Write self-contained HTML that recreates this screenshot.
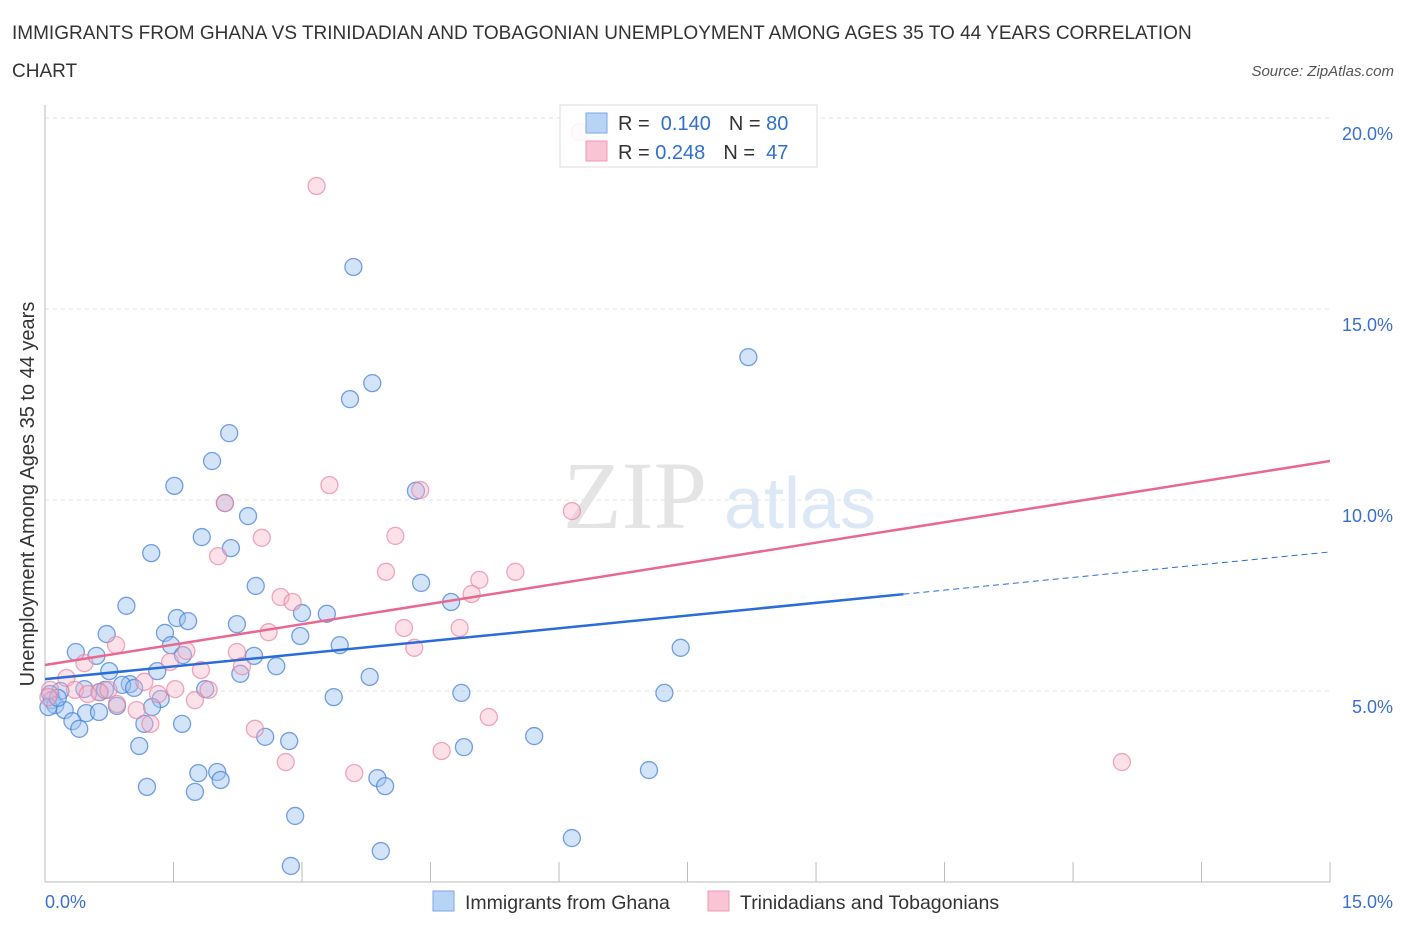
<!DOCTYPE html>
<html><head><meta charset="utf-8"><style>
body{margin:0;background:#fff;font-family:"Liberation Sans",sans-serif;}
svg{display:block}
</style></head><body>
<svg id="chart" width="1406" height="930" xmlns="http://www.w3.org/2000/svg">
<text x="12" y="39" font-size="19" fill="#333">IMMIGRANTS FROM GHANA VS TRINIDADIAN AND TOBAGONIAN UNEMPLOYMENT AMONG AGES 35 TO 44 YEARS CORRELATION</text>
<text x="12" y="77" font-size="19" fill="#333">CHART</text>
<text x="1394" y="76" font-size="15" fill="#555" font-style="italic" text-anchor="end">Source: ZipAtlas.com</text>
<text x="635" y="528" font-size="96" fill="#e4e4e4" font-family="Liberation Serif,serif" text-anchor="middle">ZIP</text>
<text x="800" y="528" font-size="72" fill="#dce8f6" text-anchor="middle">atlas</text>
<g id="grid"></g>
<g id="marks"></g>
<text transform="translate(34,494) rotate(-90)" font-size="20" fill="#333" text-anchor="middle">Unemployment Among Ages 35 to 44 years</text>
<text x="45" y="908" font-size="18" fill="#3a6fd0">0.0%</text>
<text x="1393" y="908" font-size="18" fill="#3a6fd0" text-anchor="end">15.0%</text>
<g>
<rect x="560" y="105" width="257" height="62" fill="rgba(255,255,255,0.85)" stroke="#ddd"/>
<rect x="586" y="113" width="21" height="20" fill="#b9d3f5" stroke="#7aa6e6"/>
<rect x="586" y="141" width="21" height="20" fill="#f9c4d4" stroke="#ee9ab5"/>
<text x="618" y="130" font-size="20" fill="#333">R = <tspan fill="#2f6fd0">&#160;0.140</tspan><tspan dx="18">N = </tspan><tspan fill="#2f6fd0">80</tspan></text>
<text x="618" y="159" font-size="20" fill="#333">R = <tspan fill="#2f6fd0">0.248</tspan><tspan dx="18">N = </tspan><tspan fill="#2f6fd0">&#160;47</tspan></text>
</g>
<g>
<rect x="433" y="891" width="21" height="20" fill="#b9d3f5" stroke="#7aa6e6"/>
<text x="465" y="909" font-size="19.5" fill="#333">Immigrants from Ghana</text>
<rect x="708" y="891" width="21" height="20" fill="#f9c4d4" stroke="#ee9ab5"/>
<text x="740" y="909" font-size="19.5" fill="#333">Trinidadians and Tobagonians</text>
</g>
</svg>
<script>
const yTicks=[5,10,15,20];
const xTicks=[0,1.5,3,4.5,6,7.5,9,10.5,12,13.5,15];
const bluePx=[[353,267],[748,357],[372,383],[350,399],[229,433],[212,461],[174,486],[416,491],[225,503],[248,516],[202,537],[231,548],[151,553],[421,583],[256,586],[126,606],[451,602],[177,618],[188,621],[237,624],[302,613],[327,614],[107,634],[165,633],[300,636],[340,645],[171,645],[76,652],[96,656],[183,655],[681,648],[254,656],[109,671],[157,671],[276,666],[240,674],[370,677],[130,684],[122,685],[134,688],[205,689],[84,689],[100,692],[60,691],[50,694],[52,700],[161,699],[334,697],[461,693],[664,693],[55,705],[65,710],[117,706],[152,707],[48,707],[86,713],[99,712],[72,721],[79,729],[144,724],[182,724],[265,737],[289,741],[534,736],[464,747],[139,746],[649,770],[198,773],[217,772],[221,780],[377,778],[385,786],[147,787],[195,792],[295,816],[572,838],[381,851],[291,866],[105,690],[58,698]];
const pinkPx=[[580,132],[317,186],[329,485],[420,490],[225,503],[572,511],[262,538],[395,536],[218,556],[386,572],[515,572],[479,580],[281,597],[293,602],[472,594],[269,632],[116,645],[404,628],[460,628],[186,651],[237,652],[84,663],[170,662],[414,648],[201,670],[242,666],[66,678],[144,682],[50,690],[75,690],[99,692],[108,690],[175,689],[209,690],[158,694],[195,700],[117,704],[137,710],[150,724],[489,717],[255,729],[286,762],[354,773],[442,751],[1122,762],[88,694],[48,697]];
const ghanaX=bluePx.map(p=>+((p[0]-45)/85.67).toFixed(2));
const ghanaY=bluePx.map(p=>+((882-p[1])/38.2).toFixed(2));
const trinX=pinkPx.map(p=>+((p[0]-45)/85.67).toFixed(2));
const trinY=pinkPx.map(p=>+((882-p[1])/38.2).toFixed(2));
const ghanaTrend=[5.31,8.64]; const ghanaSolidEnd=10.02;
const trinTrend=[5.68,11.02];
const X=v=>45+v*85.67, Y=v=>882-v*38.2;
const NS="http://www.w3.org/2000/svg";
function mk(t,a,parent){const e=document.createElementNS(NS,t);for(const k in a)e.setAttribute(k,a[k]);parent.appendChild(e);return e;}
const grid=document.getElementById('grid'), marks=document.getElementById('marks');
yTicks.forEach(v=>{
 const l=mk('line',{x1:45,x2:1330,y1:Y(v),y2:Y(v),stroke:'#e2e2e2','stroke-dasharray':'4,4'},grid);
 
 
 const t=mk('text',{x:1393,y:Y(v)+22,'font-size':18,fill:'#3a6fd0','text-anchor':'end'},grid);
 t.textContent=v.toFixed(1)+'%';
 
 
});
xTicks.forEach(v=>{
 const l=mk('line',{x1:X(v),x2:X(v),y1:862,y2:882,stroke:'#bbb'},grid);
 
 
});
let ax=mk('line',{x1:45,x2:1330,y1:882,y2:882,stroke:'#bbb'},grid);


ax=mk('line',{x1:45,x2:45,y1:105,y2:882,stroke:'#bbb'},grid);


ghanaX.forEach((x,i)=>{
 const c=mk('circle',{cx:X(x),cy:Y(ghanaY[i]),r:8.5,fill:'rgba(160,196,240,0.45)',stroke:'rgba(70,130,220,0.75)','stroke-width':1.3},marks);
 
 
});
trinX.forEach((x,i)=>{
 const c=mk('circle',{cx:X(x),cy:Y(trinY[i]),r:8.5,fill:'rgba(248,180,200,0.4)',stroke:'rgba(235,130,160,0.7)','stroke-width':1.3},marks);
 
 
});
const gy=x=>ghanaTrend[0]+(ghanaTrend[1]-ghanaTrend[0])*x/15;
let l=mk('line',{x1:X(0),y1:Y(gy(0)),x2:X(ghanaSolidEnd),y2:Y(gy(ghanaSolidEnd)),stroke:'#2a6dd6','stroke-width':2.5},marks);


l=mk('line',{x1:X(ghanaSolidEnd),y1:Y(gy(ghanaSolidEnd)),x2:X(15),y2:Y(gy(15)),stroke:'#2a6dd6','stroke-width':1,'stroke-dasharray':'6,4'},marks);


l=mk('line',{x1:X(0),y1:Y(trinTrend[0]),x2:X(15),y2:Y(trinTrend[1]),stroke:'#e8688f','stroke-width':2.5},marks);


</script>
</body></html>
